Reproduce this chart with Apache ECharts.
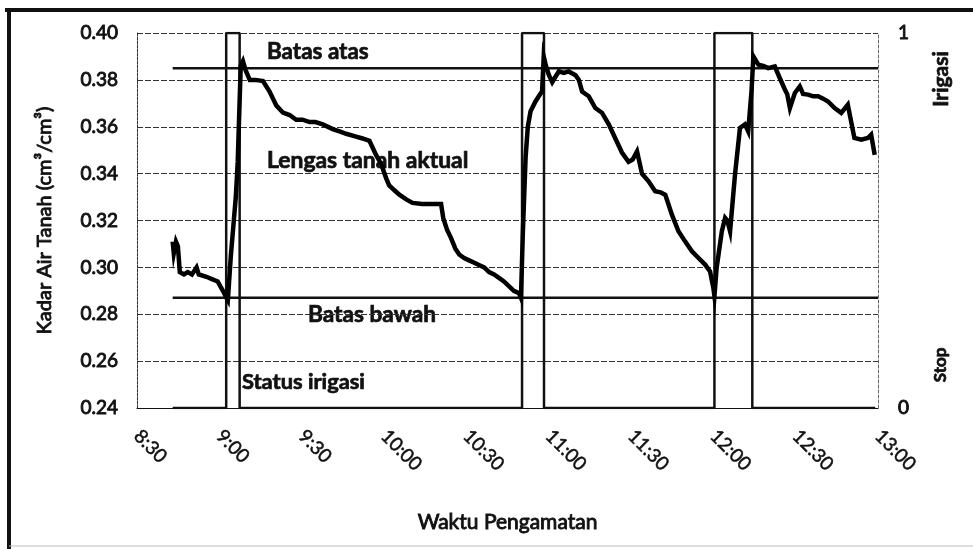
<!DOCTYPE html>
<html>
<head>
<meta charset="utf-8">
<script src="https://cdn.jsdelivr.net/npm/echarts@6/dist/echarts.min.js"></script>
<style>
  html, body { margin: 0; background: #fff; }
  #chart { width: 973px; height: 549px; }
</style>
</head>
<body>
<div id="chart"></div>
<script>
// label sumbu x (tiap 30 menit)
var labelWaktu = ["8:30", "9:00", "9:30", "10:00", "10:30", "11:00", "11:30", "12:00", "12:30", "13:00"];

// waktu pengamatan dalam menit sejak 00:00
var waktu = [
  523.0, 523.4, 524.2, 524.9, 525.6, 527.1, 528.5, 530.0, 531.7, 532.5,
  535.3, 537.3, 539.4, 541.3, 542.6, 543.1, 544.2, 546.0, 546.7, 547.8,
  548.6, 549.6, 551.1, 553.2, 555.9, 558.3, 560.8, 563.2, 565.6, 568.0,
  570.3, 572.9, 575.0, 577.7, 581.3, 583.8, 586.2, 589.2, 592.2, 594.7,
  597.1, 599.0, 600.8, 601.9, 603.7, 605.6, 608.1, 610.4, 613.9, 617.2,
  620.8, 621.6, 623.0, 624.4, 626.0, 627.4, 629.2, 631.0, 632.9, 634.6,
  636.5, 638.3, 640.1, 641.9, 643.7, 645.5, 647.3, 649.2, 649.9, 650.6,
  651.6, 652.4, 653.4, 655.2, 656.4, 657.6, 658.2, 659.0, 660.1, 661.3,
  662.3, 663.7, 665.5, 667.3, 669.8, 671.0, 672.2, 674.6, 677.0, 679.4,
  681.9, 684.3, 686.7, 689.1, 690.6, 692.2, 694.0, 696.4, 698.8, 700.8,
  702.5, 704.9, 707.3, 709.7, 712.2, 714.6, 717.0, 718.8, 720.0, 720.4,
  721.2, 723.1, 724.3, 725.1, 726.1, 727.9, 729.7, 731.5, 732.7, 733.9,
  734.6, 736.4, 738.2, 740.0, 742.4, 744.2, 746.1, 746.9, 747.9, 749.7,
  751.5, 752.7, 754.5, 756.4, 758.2, 760.0, 761.8, 764.2, 766.6, 769.0,
  770.2, 771.4, 773.9, 776.3, 777.5, 778.8
];

// lengas tanah aktual (cm3/cm3)
var lengas = [
  0.311, 0.306, 0.311, 0.309, 0.298, 0.297, 0.298, 0.297, 0.300, 0.297,
  0.296, 0.295, 0.294, 0.290, 0.287, 0.286, 0.305, 0.330, 0.345, 0.386,
  0.388, 0.384, 0.380, 0.380, 0.3795, 0.375, 0.369, 0.366, 0.365, 0.363,
  0.363, 0.362, 0.362, 0.361, 0.359, 0.358, 0.357, 0.356, 0.355, 0.354,
  0.348, 0.344, 0.338, 0.335, 0.333, 0.331, 0.329, 0.3275, 0.327, 0.327,
  0.327, 0.321, 0.316, 0.3126, 0.308, 0.3055, 0.304, 0.303, 0.302, 0.301,
  0.300, 0.298, 0.297, 0.2955, 0.294, 0.292, 0.290, 0.289, 0.287, 0.315,
  0.347, 0.360, 0.3666, 0.3708, 0.373, 0.3751, 0.390, 0.386, 0.382, 0.379,
  0.381, 0.3836, 0.383, 0.3836, 0.382, 0.380, 0.375, 0.373, 0.368, 0.366,
  0.361, 0.355, 0.349, 0.345, 0.346, 0.3495, 0.340, 0.3367, 0.3325, 0.332,
  0.331, 0.3225, 0.3154, 0.3111, 0.3069, 0.304, 0.3012, 0.2983, 0.2913, 0.2877,
  0.2998, 0.3154, 0.3211, 0.320, 0.3154, 0.3396, 0.3595, 0.361, 0.358, 0.3751,
  0.390, 0.3865, 0.386, 0.385, 0.3857, 0.3808, 0.3758, 0.374, 0.368, 0.3744,
  0.3772, 0.374, 0.3737, 0.373, 0.373, 0.372, 0.3708, 0.368, 0.3659, 0.3694,
  0.3623, 0.3552, 0.3545, 0.3552, 0.3566, 0.348
];

// status irigasi (0 = stop, 1 = irigasi)
var statusWaktu = [523, 542.5, 542.5, 547.4, 547.4, 650.3, 650.3, 658.3, 658.3, 720.4, 720.4, 734.2, 734.2, 779];
var statusIrigasi = [0, 0, 1, 1, 0, 0, 1, 1, 0, 0, 1, 1, 0, 0];

// batas atas dan batas bawah
var batasWaktu = [523, 780];
var batasAtas = [0.385, 0.385];
var batasBawah = [0.287, 0.287];

function pasang(xs, ys) {
  return xs.map(function (x, i) { return [x, ys[i]]; });
}

var font = "Lato";
// huruf ditebalkan sedikit dengan garis tepi (hasil scan aslinya tebal)
var tebal = { textBorderColor: "#111", textBorderWidth: 0.9 };

function teks(x, y, isi, ukuran, putar, lebar) {
  return {
    type: "text", x: x, y: y, rotation: putar || 0, scaleX: lebar || 1,
    style: {
      text: isi, fontSize: ukuran, fontFamily: font, fontWeight: "bold",
      fill: "#111", stroke: "#111", lineWidth: 0.7,
      align: putar ? "center" : "left", verticalAlign: "middle"
    }
  };
}

var myChart = echarts.init(document.getElementById("chart"));

var option = {
  backgroundColor: "#fff",
  animation: false,
  textStyle: { fontFamily: font, color: "#111" },
  grid: { left: 137, right: 95, top: 33, bottom: 141 },
  xAxis: {
    type: "value",
    min: 510,
    max: 780,
    interval: 30,
    name: "Waktu Pengamatan",
    nameLocation: "middle",
    nameGap: 104,
    nameTextStyle: Object.assign({ fontFamily: font, fontSize: 21, color: "#111" }, tebal),
    axisLine: { show: true, lineStyle: { color: "#111", width: 1 } },
    axisTick: { show: false },
    splitLine: { show: false },
    axisLabel: {
      rotate: -45,
      margin: 25,
      fontFamily: font,
      fontSize: 19,
      color: "#111",
      textBorderColor: "#111",
      textBorderWidth: 0.5,
      showMinLabel: true,
      showMaxLabel: true,
      formatter: function (v) { return labelWaktu[Math.round((v - 510) / 30)]; }
    }
  },
  yAxis: [
    {
      type: "value",
      min: 0.24,
      max: 0.40,
      interval: 0.02,
      name: "Kadar Air Tanah (cm³/cm³)",
      nameLocation: "middle",
      nameGap: 82,
      nameTextStyle: Object.assign({ fontFamily: font, fontSize: 20, color: "#111" }, tebal),
      axisLine: { show: true, lineStyle: { color: "#333", width: 1, type: [3, 1] } },
      axisTick: { show: false },
      axisLabel: Object.assign({
        margin: 19,
        fontFamily: font,
        fontSize: 19,
        color: "#111",
        formatter: function (v) { return v.toFixed(2); }
      }, tebal),
      splitLine: { show: true, lineStyle: { color: "#333", width: 1, type: [6, 2] } }
    },
    {
      type: "value",
      min: 0,
      max: 1,
      interval: 1,
      position: "right",
      axisLine: { show: true, lineStyle: { color: "#666", width: 1, type: [3, 2] } },
      axisTick: { show: false },
      splitLine: { show: false },
      axisLabel: Object.assign({ margin: 20, fontFamily: font, fontSize: 19, color: "#111" }, tebal)
    }
  ],
  series: [
    {
      name: "Batas atas",
      type: "line",
      data: pasang(batasWaktu, batasAtas),
      symbol: "none",
      lineStyle: { color: "#111", width: 2.5 }
    },
    {
      name: "Batas bawah",
      type: "line",
      data: pasang(batasWaktu, batasBawah),
      symbol: "none",
      lineStyle: { color: "#111", width: 2.5 }
    },
    {
      name: "Status irigasi",
      type: "line",
      yAxisIndex: 1,
      data: pasang(statusWaktu, statusIrigasi),
      symbol: "none",
      lineStyle: { color: "#111", width: 2.5 }
    },
    {
      name: "Lengas tanah aktual",
      type: "line",
      data: pasang(waktu, lengas),
      symbol: "none",
      lineStyle: { color: "#000", width: 4.5, join: "miter" }
    }
  ],
  graphic: [
    // bingkai luar
    { type: "line", shape: { x1: 5, y1: 10, x2: 973, y2: 10 }, style: { stroke: "#111", lineWidth: 4 } },
    { type: "line", shape: { x1: 9, y1: 8, x2: 9, y2: 549 }, style: { stroke: "#111", lineWidth: 4 } },
    { type: "line", shape: { x1: 9, y1: 546, x2: 973, y2: 546 }, style: { stroke: "#bbb", lineWidth: 1 } },
    // keterangan di dalam grafik
    teks(267, 52, "Batas atas", 22, 0, 1.02),
    teks(267, 161, "Lengas tanah aktual", 22, 0, 1.04),
    teks(308, 315, "Batas bawah", 22, 0, 1.03),
    teks(242, 382, "Status irigasi", 21, 0, 1.04),
    // keterangan sumbu kanan
    teks(941, 79, "Irigasi", 21, Math.PI / 2),
    teks(941, 365, "Stop", 17, Math.PI / 2)
  ]
};

myChart.setOption(option);
</script>
</body>
</html>
